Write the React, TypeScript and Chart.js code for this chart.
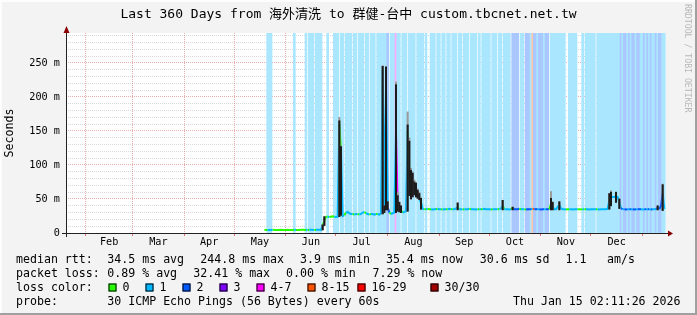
import React, { useEffect, useRef } from 'react';
import { Chart, registerables } from 'chart.js';

Chart.register(...registerables);

// ---------------- data ----------------
const TITLE = 'Last 360 Days from 海外清洗 to 群健-台中 custom.tbcnet.net.tw';
const RANGE_DAYS = 360;
const Y_MAX = 294;
const FIRST_DAY = 119; // day index (days since range start) of first sample

// daily median RTT in ms, day FIRST_DAY .. 359
const medianRtt: number[] = [
  4.6, 4.5, 4.5, 4.4, 4.5, 4.6, 4.5, 4.4, 4.5, 4.5,
  4.6, 4.5, 4.4, 4.5, 4.6, 4.5, 4.4, 4.5, 4.7, 4.5,
  4.4, 4.5, 4.6, 4.8, 4.5, 4.6, 4.5, 4.7, 4.9, 4.6,
  4.5, 4.6, 4.8, 4.6, 4.5, 11.5, 18, 24, 24, 23.5,
  24, 24.5, 24, 23.5, 24, 160, 120, 25, 26, 30,
  31, 29, 28, 28, 27, 28, 28, 27, 28, 30,
  31, 29, 28, 27, 28, 28, 27, 28, 28, 27,
  29, 240, 34, 215, 38, 30, 28, 29, 30, 147,
  42, 36, 33, 30, 31, 32, 150, 92, 75, 66,
  62, 60, 55, 50, 45, 35.5, 35, 35, 35.5, 35,
  35, 34.5, 35, 35, 35.5, 35, 35, 34.5, 35, 35,
  35, 35.5, 35, 35, 35, 36, 38, 35, 35, 34.5,
  35, 35, 35, 35.5, 35, 35, 35, 34.5, 35, 35,
  35, 35, 35.5, 35, 35, 35, 34.5, 35, 35, 35,
  35, 35, 36, 40, 35, 35, 35, 34.5, 35, 37,
  35, 35, 35, 35.5, 35, 35, 35, 34.5, 35, 35,
  35, 35.5, 35, 35, 35, 35, 34.5, 35, 35, 35,
  35, 35, 43, 38, 35, 35, 38, 42, 36, 35,
  35, 34.5, 35, 35, 35, 34.5, 35, 35, 35, 35,
  34.5, 35, 35, 35, 35, 34.5, 35, 35, 35, 35,
  35, 34.5, 35, 35, 35, 35, 35.5, 48, 53, 53,
  53, 54, 53, 45, 36, 35, 35, 34.5, 35, 35,
  35, 35, 34.5, 35, 35, 35, 35, 34.5, 35, 35,
  35, 35, 34.5, 35, 35, 35, 37, 35, 40, 58,
  35.4,
];

// daily loss class (0 = 0, 1 = 1, 2 = 2, 3 = 3, 4 = 4-7, 5 = 8-15, 6 = 16-29, 7 = 30/30)
const lossClass: number[] = [
  0, 0, 1, 1, 1, 0, 0, 0, 0, 0,
  0, 0, 0, 0, 0, 0, 0, 0, 1, 0,
  0, 0, 0, 0, 0, 1, 0, 1, 1, 1,
  0, 1, 1, 1, 1, 0, 0, 0, 1, 0,
  0, 0, 1, 1, 1, 0, 1, 1, 0, 1,
  1, 1, 1, 0, 1, 1, 0, 1, 1, 1,
  0, 1, 1, 0, 1, 1, 1, 0, 1, 1,
  1, 1, 1, 1, 2, 0, 1, 1, 1, 4,
  1, 1, 0, 1, 1, 1, 0, 1, 1, 1,
  1, 0, 1, 1, 1, 1, 0, 1, 0, 0,
  1, 1, 1, 0, 1, 1, 0, 1, 1, 0,
  1, 1, 0, 1, 1, 1, 0, 1, 1, 0,
  1, 1, 1, 0, 1, 1, 1, 1, 0, 1,
  0, 1, 1, 1, 1, 1, 0, 1, 1, 1,
  0, 1, 1, 0, 1, 1, 1, 1, 0, 2,
  2, 2, 2, 0, 1, 1, 0, 2, 2, 2,
  1, 5, 2, 2, 1, 2, 2, 2, 1, 2,
  2, 0, 1, 1, 1, 1, 1, 1, 1, 1,
  1, 0, 0, 1, 1, 1, 1, 1, 0, 0,
  0, 1, 0, 1, 1, 1, 1, 1, 1, 0,
  1, 1, 1, 1, 1, 1, 1, 1, 1, 1,
  1, 1, 1, 1, 2, 1, 2, 2, 1, 2,
  1, 2, 2, 1, 2, 2, 1, 1, 2, 1,
  2, 1, 2, 1, 1, 2, 1, 2, 2, 1,
  1,
];

// smoke (ping spread) on days where it stands out from the median line
const smokeDays: number[] = [154, 155, 164, 165, 190, 191, 192, 193, 198, 199, 200, 201, 205, 206, 207, 208, 209, 210, 211, 212, 213, 235, 262, 268, 291, 292, 296, 326, 327, 330, 332, 355, 358];
const smokeLo: number[] = [4.5, 11, 24, 26, 28, 30, 34, 34, 30, 32, 31, 30, 32, 55, 50, 53, 56, 53, 51, 49, 35, 34, 34, 34, 34, 34, 34, 35, 40, 45, 36, 34, 33];
const smokeHi: number[] = [12, 24, 165, 127, 245, 40, 244, 46, 218, 55, 45, 40, 159, 135, 92, 88, 75, 73, 63, 58, 51, 44, 48, 38, 51, 45, 46, 58, 60, 60, 50, 40, 71];
const smokeTip: number[] = [12, 24, 170, 128, 246, 40, 245, 46, 222, 60, 46, 40, 178, 140, 95, 90, 78, 75, 65, 60, 52, 45, 48, 38, 61, 46, 46, 58, 62, 60, 50, 40, 72];

const yTickValues: number[] = [0, 10, 20, 30, 40, 50, 60, 70, 80, 90, 100, 110, 120, 130, 140, 150, 160, 170, 180, 190, 200, 210, 220, 230, 240, 250, 260, 270, 280, 290];
const MONTH_LABELS = ['Feb', 'Mar', 'Apr', 'May', 'Jun', 'Jul', 'Aug', 'Sep', 'Oct', 'Nov', 'Dec'];

const RTT_STATS = ['34.5 ms avg', '244.8 ms max', '3.9 ms min', '35.4 ms now', '30.6 ms sd', '1.1', 'am/s'];
const LOSS_STATS = ['0.89 % avg', '32.41 % max', '0.00 % min', '7.29 % now'];
const LOSS_LEGEND = ['0', '1', '2', '3', '4-7', '8-15', '16-29', '30/30'];
const PROBE = '30 ICMP Echo Pings (56 Bytes) every 60s';
const DATE_TEXT = 'Thu Jan 15 02:11:26 2026';
const WATERMARK = 'RRDTOOL / TOBI OETIKER';

// ---------------- styles ----------------
const LOSS_COLORS = ['#26ff00', '#00b8ff', '#0059ff', '#7e00ff', '#ff00ff', '#ff5500', '#ff0000', '#a10000'];
const LOSS_BG = ['#ffffff', '#aae7ff', '#aac8ff', '#d4aaff', '#ffaaff', '#ffc6aa', '#ffaaaa', '#e0aaaa'];
const GRID = 'rgba(140,140,140,0.33)';
const MGRID = 'rgba(200,40,40,0.38)';
const MONO = '"DejaVu Sans Mono", monospace';

// month boundaries as day offsets from range start (Jan 20 2025 02:11:26)
const START = Date.UTC(2025, 0, 20, 2, 11, 26);
const DAY = 86400000;
const boundaries: number[] = [];
for (let m = 1; m <= 12; m++) boundaries.push((Date.UTC(2025, m, 1) - START) / DAY);
const xTickValues: number[] = [];
const xTickLabels: string[] = [];
boundaries.forEach((b, i) => {
  xTickValues.push(b);
  xTickLabels.push('');
  if (i < boundaries.length - 1) {
    xTickValues.push((b + boundaries[i + 1]) / 2);
    xTickLabels.push(MONTH_LABELS[i]);
  }
});

const decor = {
  id: 'decor',
  beforeDraw(chart: any) {
    const { ctx, chartArea: a, width: W, height: H } = chart;
    ctx.save();
    ctx.fillStyle = '#f3f3f3';
    ctx.fillRect(0, 0, W, H);
    ctx.fillStyle = '#fdfdfd';
    ctx.fillRect(0, 0, W, 2);
    ctx.fillRect(0, 0, 2, H);
    ctx.fillStyle = '#a0a0a0';
    ctx.fillRect(W - 2, 0, 2, H);
    ctx.fillRect(0, H - 2, W, 2);
    ctx.fillStyle = '#ffffff';
    ctx.fillRect(a.left, a.top, a.right - a.left, a.bottom - a.top);
    ctx.restore();
  },
  afterDraw(chart: any) {
    const { ctx, chartArea: a, width: W } = chart;
    ctx.save();
    // axes
    ctx.strokeStyle = '#222';
    ctx.lineWidth = 1;
    ctx.beginPath();
    ctx.moveTo(a.left - 4, a.bottom + 0.5);
    ctx.lineTo(a.right + 3, a.bottom + 0.5);
    ctx.moveTo(a.left + 0.5, a.bottom + 4);
    ctx.lineTo(a.left + 0.5, a.top - 3);
    ctx.stroke();
    ctx.fillStyle = '#8b0000';
    ctx.beginPath();
    ctx.moveTo(a.right + 2, a.bottom + 0.5 - 3);
    ctx.lineTo(a.right + 7, a.bottom + 0.5);
    ctx.lineTo(a.right + 2, a.bottom + 0.5 + 3);
    ctx.closePath();
    ctx.fill();
    ctx.beginPath();
    ctx.moveTo(a.left + 0.5 - 3, a.top);
    ctx.lineTo(a.left + 0.5, a.top - 7);
    ctx.lineTo(a.left + 0.5 + 3, a.top);
    ctx.closePath();
    ctx.fill();

    // title
    ctx.fillStyle = '#000';
    ctx.textBaseline = 'middle';
    ctx.textAlign = 'center';
    ctx.font = '13px "DejaVu Sans Mono", "Noto Sans CJK TC", monospace';
    ctx.fillText(TITLE, W / 2, 15);

    // legend
    ctx.textAlign = 'left';
    ctx.font = '11.6px ' + MONO;
    const r1 = 259.5, r2 = 273.5, r3 = 287.5, r4 = 301.5;
    ctx.fillText('median rtt:', 16, r1);
    const x1 = [107.3, 200.3, 300.1, 385.9, 479.7, 565.5, 607];
    RTT_STATS.forEach((s, i) => ctx.fillText(s, x1[i], r1));
    ctx.fillText('packet loss:', 16, r2);
    const x2 = [107.3, 193.3, 286, 372.5];
    LOSS_STATS.forEach((s, i) => ctx.fillText(s, x2[i], r2));
    ctx.fillText('loss color:', 16, r3);
    const xs = [108.5, 145.5, 182.5, 219.5, 256.5, 307.5, 357.5, 430.5];
    LOSS_LEGEND.forEach((s, i) => {
      ctx.fillStyle = LOSS_COLORS[i];
      ctx.fillRect(xs[i], r3 - 4, 8, 8);
      ctx.strokeStyle = '#000';
      ctx.strokeRect(xs[i] + 0.5, r3 - 3.5, 7, 7);
      ctx.fillStyle = '#000';
      ctx.fillText(s, xs[i] + 14, r3);
    });
    ctx.fillText('probe:', 16, r4);
    ctx.fillText(PROBE, 107.3, r4);
    ctx.textAlign = 'right';
    ctx.fillText(DATE_TEXT, 680.5, r4);

    // watermark
    ctx.translate(687, 4);
    ctx.rotate(Math.PI / 2);
    ctx.textAlign = 'left';
    ctx.fillStyle = '#b8b8b8';
    ctx.font = '8.2px ' + MONO;
    ctx.fillText(WATERMARK, 0, 0);
    ctx.restore();
  },
};

export default function App() {
  const ref = useRef<HTMLCanvasElement>(null);
  useEffect(() => {
    const lossDays: any[] = [];
    const lossColors: string[] = [];
    lossClass.forEach((c, i) => {
      if (c > 0) {
        lossDays.push({ x: FIRST_DAY + i, y: Y_MAX });
        lossColors.push(LOSS_BG[c]);
      }
    });
    const chart = new Chart(ref.current as HTMLCanvasElement, {
      type: 'bar',
      data: {
        datasets: [
          {
            type: 'bar',
            label: 'smoke tip',
            data: smokeDays.map((d, i) => ({ x: d, y: [smokeLo[i], smokeTip[i]] })) as any,
            backgroundColor: '#9a9a9a',
            barThickness: 1.4,
            grouped: false,
            order: 1,
          } as any,
          {
            type: 'bar',
            label: 'smoke',
            data: smokeDays.map((d, i) => ({ x: d, y: [smokeLo[i], smokeHi[i]] })) as any,
            backgroundColor: '#1c1c1c',
            barThickness: 1.4,
            grouped: false,
            order: 0,
          } as any,
          {
            type: 'line',
            label: 'median rtt',
            data: medianRtt.map((v, i) => ({ x: FIRST_DAY + i, y: v })) as any,
            borderWidth: 2,
            borderColor: LOSS_COLORS[1],
            pointRadius: 0,
            tension: 0,
            segment: {
              borderColor: (c: any) => LOSS_COLORS[lossClass[c.p0DataIndex]],
            },
            order: 2,
          } as any,
          {
            type: 'bar',
            label: 'loss',
            data: lossDays,
            backgroundColor: lossColors,
            barThickness: 2,
            grouped: false,
            order: 3,
          } as any,
        ],
      },
      plugins: [decor],
      options: {
        responsive: false,
        animation: false,
        devicePixelRatio: 1,
        events: [],
        layout: { padding: { left: 0, right: 31, top: 33, bottom: 0 } },
        plugins: { legend: { display: false }, title: { display: false }, tooltip: { enabled: false } },
        scales: {
          x: {
            type: 'linear',
            min: 0,
            max: RANGE_DAYS,
            offset: false,
            z: 1,
            afterBuildTicks: (s: any) => {
              s.ticks = xTickValues.map((v) => ({ value: v }));
            },
            afterFit: (s: any) => {
              s.height = 82;
            },
            grid: {
              offset: false,
              lineWidth: 1,
              color: (c: any) => (c.index % 2 === 0 ? MGRID : 'rgba(0,0,0,0)'),
              drawTicks: true,
              tickLength: 3,
              tickColor: (c: any) => (c.index % 2 === 0 ? 'rgba(220,60,60,0.7)' : 'rgba(0,0,0,0)'),
              tickBorderDash: [],
            },
            border: { display: false, dash: [1, 1] },
            ticks: {
              autoSkip: false,
              maxRotation: 0,
              minRotation: 0,
              padding: 0.5,
              color: '#000',
              font: { family: MONO, size: 10.2 },
              callback: (_v: any, i: number) => xTickLabels[i],
            },
          },
          y: {
            type: 'linear',
            min: 0,
            max: Y_MAX,
            z: 1,
            afterBuildTicks: (s: any) => {
              s.ticks = yTickValues.map((v) => ({ value: v }));
            },
            afterFit: (s: any) => {
              s.width = 66;
            },
            grid: {
              lineWidth: 1,
              color: (c: any) => (c.tick && c.tick.value % 50 === 0 ? MGRID : GRID),
              drawTicks: false,
            },
            border: { display: false, dash: [1, 1] },
            ticks: {
              autoSkip: false,
              padding: 6,
              color: '#000',
              font: { family: MONO, size: 10.2 },
              callback: (v: any) => (v % 50 === 0 ? (v === 0 ? '0' : v + ' m') : ''),
            },
            title: {
              display: true,
              text: 'Seconds',
              color: '#000',
              font: { family: MONO, size: 11.6 },
              padding: { top: 3.5, bottom: 0 },
            },
          },
        },
      } as any,
    });
    return () => chart.destroy();
  }, []);
  return (
    <div style={{ position: 'fixed', left: 0, top: 0, width: 697, height: 315 }}>
      <canvas ref={ref} width={697} height={315} style={{ display: 'block', width: 697, height: 315 }} />
    </div>
  );
}
